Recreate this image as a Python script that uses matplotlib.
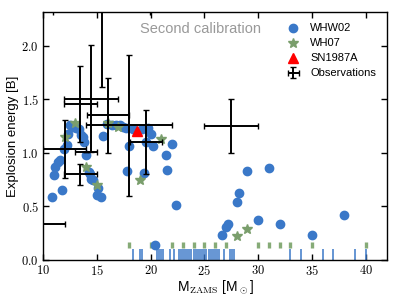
import numpy as np
import matplotlib
matplotlib.use('Agg')
import matplotlib.pyplot as plt
from matplotlib.ticker import FuncFormatter

plt.rcParams['font.family'] = ['Liberation Sans', 'DejaVu Sans']
plt.rcParams['mathtext.fontset'] = 'cm'

# WHW02 models (exploding)
whw02_m = [10.8, 11.0, 11.15, 11.4, 11.6, 11.8, 11.96, 12.2, 12.35, 12.5, 12.8, 13.1,
           13.35, 13.5, 13.7, 13.8, 14.0, 14.3, 14.4, 14.5, 14.66, 15.1, 15.0, 15.4,
           15.6, 15.9, 16.4, 16.8, 17.15, 17.45, 17.7, 18.0, 17.8, 18.4, 19.2, 19.6,
           19.8, 20.0, 20.2, 19.4, 21.4, 22.0, 21.55, 22.37, 20.4,
           26.6, 27.0, 27.2, 28.0, 28.2, 29.0, 30.0, 31.0, 32.0, 35.0, 38.0]
whw02_e = [0.59, 0.79, 0.865, 0.91, 0.93, 0.65, 1.035, 1.07, 1.175, 1.26, 1.245, 1.23,
           1.22, 1.17, 1.145, 1.10, 0.98, 0.82, 0.80, 0.76, 0.745, 0.67, 0.61, 0.59,
           1.16, 1.27, 1.26, 1.26, 1.26, 1.245, 1.23, 1.06, 0.83, 1.22, 1.22, 1.10,
           1.23, 1.175, 1.065, 0.81, 0.98, 1.08, 0.84, 0.51, 0.14,
           0.23, 0.31, 0.34, 0.54, 0.63, 0.83, 0.37, 0.86, 0.34, 0.23, 0.42]

# WH07 models
wh07_m = [12, 13, 14, 15, 16, 17, 19, 21, 28, 29]
wh07_e = [1.15, 1.28, 0.87, 0.70, 1.275, 1.245, 0.75, 1.13, 0.22, 0.29]

# SN1987A
sn_m = [18.76]
sn_e = [1.205]

# observations
obs_m = [12.0, 13.48, 13.47, 14.45, 13.97, 15.45, 16.0, 18.0, 19.55, 27.5, 9.0]
obs_e = [1.034, 1.455, 0.80, 1.505, 1.005, 2.31, 1.35, 1.255, 1.10, 1.25, 0.333]
obs_dm = [2.0, 1.5, 1.5, 2.5, 1.0, 4.5, 1.95, 4.0, 1.5, 2.5, 3.0]
obs_de = [0.272, 0.355, 0.10, 0.50, 0.0, 0.70, 0.35, 0.655, 0.30, 0.25, 0.0]

# non-exploding models (rug)
rug_whw02 = ([18.4, 19.0, 19.2, 20.6, 20.8, 21.0, 21.2, 21.8, 22.2]
             + [22.6, 22.8, 23.0, 23.2, 23.4, 23.6, 23.8, 24.0, 24.2, 24.4,
                24.6, 24.8, 25.0, 25.2, 25.4, 25.6, 25.8, 26.0, 26.2, 26.4]
             + [26.8, 27.4, 27.6, 27.8, 33, 34, 36, 37, 39, 40])
rug_wh07 = [18, 20, 22, 23, 24, 25, 26, 27, 30, 31, 32, 33, 35, 40]

blue = '#3a78c8'
green = '#7a9e6c'

fig = plt.figure(figsize=(3.99, 3.01), dpi=100)
ax = fig.add_axes([0.108, 0.136, 0.862, 0.823])

ax.vlines(rug_whw02, 0.003, 0.10, color=blue, lw=1.1, zorder=2)
ax.vlines(rug_wh07, 0.112, 0.172, color='#86ab77', lw=2.4, zorder=2)

ax.plot(whw02_m, whw02_e, 'o', color=blue, ms=6, ls='none', label='WHW02', zorder=2)
ax.plot(wh07_m, wh07_e, '*', color=green, ms=7, ls='none', label='WH07', zorder=2)
ax.plot(sn_m, sn_e, '^', color='red', ms=6.5, ls='none', label='SN1987A', zorder=4)
ax.errorbar(obs_m, obs_e, xerr=obs_dm, yerr=obs_de, fmt='none', ecolor='k',
            elinewidth=1.4, capsize=2.5, capthick=1.0, label='Observations', zorder=3)

ax.text(24.6, 2.155, 'Second calibration', color='#999999', fontsize=10.5,
        ha='center', va='center')

ax.set_xlim(10, 42)
ax.set_ylim(0, 2.31)
ax.set_xticks([10, 15, 20, 25, 30, 35, 40])
ax.set_yticks([0.0, 0.5, 1.0, 1.5, 2.0])
ax.xaxis.set_major_formatter(FuncFormatter(lambda v, p: r'$%d$' % v))
ax.yaxis.set_major_formatter(FuncFormatter(lambda v, p: r'$%.1f$' % v))
ax.tick_params(direction='in', top=True, right=True, length=4, width=1, labelsize=9, pad=3)
for s in ax.spines.values():
    s.set_linewidth(1.0)

ax.set_xlabel(r'M$_{\rm ZAMS}$ [M$_\odot$]', fontsize=10, labelpad=0)
ax.set_ylabel('Explosion energy [B]', fontsize=9.5, labelpad=2)

ax.legend(loc='upper right', frameon=False, fontsize=8, handlelength=1.2,
          handletextpad=0.9, labelspacing=0.45, borderaxespad=0.6)

plt.savefig('out.png', dpi=100)
